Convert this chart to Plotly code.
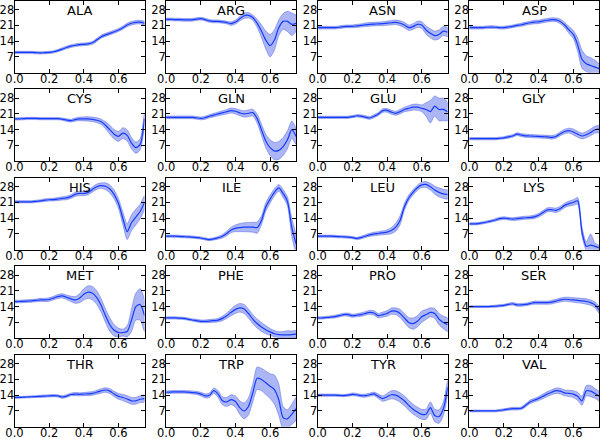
import plotly.graph_objects as go

x = [0.0, 0.025, 0.05, 0.075, 0.1, 0.125, 0.15, 0.175, 0.2, 0.225, 0.25, 0.275, 0.3, 0.325, 0.35,
     0.375, 0.4, 0.425, 0.45, 0.475, 0.5, 0.525, 0.55, 0.575, 0.6, 0.625, 0.65, 0.675, 0.7, 0.725, 0.75]

x_ticks = [0.0, 0.2, 0.4, 0.6]
x_tick_labels = ["0.0", "0.2", "0.4", "0.6"]
y_ticks = [7, 14, 21, 28]
y_tick_labels = ["7", "14", "21", "28"]

names = ["ALA", "ARG", "ASN", "ASP", "CYS", "GLN", "GLU", "GLY", "HIS", "ILE",
         "LEU", "LYS", "MET", "PHE", "PRO", "SER", "THR", "TRP", "TYR", "VAL"]

ALA = [9.0, 9.0, 9.0, 9.0, 9.0, 8.9, 8.8, 8.9, 9.0, 9.3, 9.8, 10.5, 11.2, 11.8, 12.2, 12.5, 12.6, 12.8, 13.3,
       14.6, 16.0, 16.8, 17.5, 18.2, 19.0, 20.0, 21.2, 22.0, 22.4, 22.5, 22.0]
ALA_err = [0.5, 0.5, 0.5, 0.5, 0.5, 0.5, 0.5, 0.5, 0.5, 0.5, 0.5, 0.6, 0.6, 0.6, 0.6, 0.6, 0.6, 0.6, 0.6,
           0.7, 0.7, 0.7, 0.7, 0.7, 0.7, 0.7, 0.8, 0.8, 0.8, 0.8, 0.8]

ARG = [23.7, 23.7, 23.6, 23.6, 23.5, 23.5, 23.5, 23.8, 24.0, 23.6, 23.0, 22.8, 22.8, 22.6, 22.3, 21.8, 22.5,
       24.0, 25.3, 25.5, 24.5, 22.0, 18.5, 14.5, 12.0, 14.5, 20.0, 22.8, 22.8, 21.5, 22.0]
ARG_err = [0.6, 0.6, 0.6, 0.6, 0.6, 0.6, 0.6, 0.6, 0.6, 0.6, 0.6, 0.6, 0.6, 0.6, 0.6, 0.8, 0.9, 1.0, 1.2,
           1.2, 1.2, 1.8, 2.8, 4.0, 5.0, 4.5, 3.5, 3.5, 4.5, 5.0, 3.5]

ASN = [20.0, 20.0, 20.0, 20.0, 20.0, 20.2, 20.5, 20.6, 20.6, 20.8, 21.0, 21.3, 21.5, 21.6, 21.7, 21.8, 22.0,
       22.2, 22.4, 22.0, 21.2, 20.0, 20.5, 21.5, 21.2, 19.0, 17.5, 16.5, 17.0, 18.5, 18.0]
ASN_err = [0.6, 0.6, 0.6, 0.6, 0.6, 0.6, 0.6, 0.6, 0.6, 0.7, 0.7, 0.8, 0.8, 0.8, 0.8, 0.9, 0.9, 1.0, 1.0,
           1.1, 1.2, 1.2, 1.3, 1.4, 1.5, 1.8, 2.0, 2.0, 2.0, 2.0, 2.0]

ASP = [20.0, 20.0, 20.0, 20.0, 20.2, 20.3, 20.2, 20.0, 20.0, 20.3, 20.6, 21.0, 21.3, 21.8, 22.2, 22.5, 22.6,
       23.0, 23.3, 23.6, 23.5, 22.8, 21.2, 19.0, 17.0, 12.5, 6.0, 4.0, 3.2, 2.5, 1.8]
ASP_err = [0.6, 0.6, 0.6, 0.6, 0.6, 0.6, 0.6, 0.6, 0.6, 0.6, 0.6, 0.6, 0.7, 0.7, 0.7, 0.8, 0.8, 0.8, 0.8,
           0.8, 0.8, 1.0, 1.2, 1.5, 1.8, 3.0, 4.0, 3.5, 3.5, 3.0, 2.0]

CYS = [18.8, 18.8, 18.9, 19.0, 19.0, 19.0, 18.9, 18.9, 18.9, 18.9, 18.9, 18.7, 18.3, 18.0, 18.5, 18.8, 18.8,
       18.8, 18.6, 18.2, 17.5, 16.0, 14.0, 12.0, 11.0, 12.5, 11.5, 8.0, 6.0, 7.5, 19.0]
CYS_err = [0.5, 0.5, 0.5, 0.5, 0.5, 0.5, 0.5, 0.5, 0.5, 0.5, 0.5, 0.5, 0.6, 0.6, 0.7, 0.8, 0.9, 1.0, 1.0,
           1.1, 1.2, 1.6, 2.0, 2.1, 2.2, 2.4, 2.5, 2.5, 2.5, 2.5, 2.5]

GLN = [19.5, 19.5, 19.5, 19.5, 19.5, 19.5, 19.5, 19.3, 19.0, 19.3, 20.0, 20.5, 21.0, 21.5, 22.0, 22.5, 22.2,
       21.5, 21.0, 21.3, 21.6, 19.0, 14.0, 9.0, 6.0, 4.5, 4.8, 6.5, 9.5, 14.0, 11.0]
GLN_err = [0.6, 0.6, 0.6, 0.6, 0.6, 0.6, 0.6, 0.6, 0.6, 0.7, 0.7, 0.8, 0.8, 0.9, 1.0, 1.1, 1.2, 1.3, 1.4,
           1.5, 1.5, 2.0, 2.5, 3.0, 3.5, 3.8, 4.0, 4.0, 4.0, 3.8, 3.5]

GLU = [19.5, 19.5, 19.5, 19.5, 19.5, 19.5, 19.5, 19.5, 19.8, 20.2, 20.0, 19.6, 19.2, 20.0, 21.0, 22.5, 22.6,
       21.8, 21.3, 22.0, 23.0, 23.5, 24.0, 24.0, 23.5, 23.0, 22.0, 24.5, 23.0, 23.0, 22.0]
GLU_err = [0.5, 0.5, 0.5, 0.5, 0.5, 0.5, 0.5, 0.5, 0.5, 0.5, 0.6, 0.6, 0.6, 0.7, 0.7, 0.8, 0.8, 0.9, 0.9,
           1.0, 1.0, 1.2, 1.3, 1.4, 1.5, 3.0, 5.0, 4.5, 5.0, 5.0, 4.0]

GLY = [10.0, 10.0, 10.0, 10.0, 10.0, 10.0, 10.0, 10.2, 10.4, 10.8, 11.2, 12.0, 11.6, 11.3, 11.2, 11.1, 11.0,
       10.9, 10.8, 10.6, 11.0, 12.2, 13.2, 13.6, 13.0, 12.0, 11.2, 11.8, 12.8, 14.0, 14.3]
GLY_err = [0.5, 0.5, 0.5, 0.5, 0.5, 0.5, 0.5, 0.5, 0.5, 0.6, 0.6, 0.6, 0.7, 0.7, 0.7, 0.7, 0.7, 0.7, 0.7,
           0.8, 0.8, 0.9, 1.0, 1.1, 1.3, 1.3, 1.3, 1.4, 1.5, 1.5, 1.5]

HIS = [21.3, 21.3, 21.3, 21.3, 21.3, 21.5, 21.7, 22.0, 22.2, 22.3, 22.5, 22.8, 23.0, 23.6, 24.6, 25.0, 25.0,
       25.5, 26.8, 28.0, 28.5, 28.2, 27.0, 24.5, 20.5, 14.0, 8.0, 12.0, 14.5, 17.0, 21.0]
HIS_err = [0.5, 0.5, 0.5, 0.5, 0.5, 0.5, 0.5, 0.6, 0.6, 0.6, 0.7, 0.7, 0.8, 0.8, 0.9, 1.0, 1.0, 1.1, 1.1,
           1.2, 1.2, 1.5, 1.8, 2.0, 2.2, 2.8, 3.5, 3.5, 3.5, 3.2, 3.0]

ILE = [6.0, 6.0, 6.0, 5.9, 5.8, 5.7, 5.6, 5.4, 5.2, 4.8, 4.5, 4.8, 5.3, 6.0, 7.2, 8.8, 9.5, 9.8, 10.0,
       10.0, 10.0, 9.8, 13.0, 19.0, 22.5, 25.5, 27.5, 25.0, 21.5, 10.0, 2.5]
ILE_err = [0.5, 0.5, 0.5, 0.5, 0.5, 0.5, 0.5, 0.5, 0.5, 0.5, 0.5, 0.5, 0.6, 0.8, 1.0, 1.2, 1.5, 1.8, 2.0,
           2.1, 2.2, 2.5, 2.0, 1.9, 1.8, 1.6, 1.5, 1.8, 2.0, 4.0, 4.0]

LEU = [6.0, 6.0, 6.0, 6.0, 5.9, 5.8, 5.7, 5.6, 5.4, 5.0, 5.4, 6.0, 6.6, 7.0, 7.2, 7.5, 7.8, 8.5, 10.0,
       13.0, 19.0, 23.0, 25.5, 27.5, 28.8, 29.0, 28.0, 26.5, 25.5, 24.8, 24.5]
LEU_err = [0.5, 0.5, 0.5, 0.5, 0.5, 0.5, 0.5, 0.5, 0.5, 0.5, 0.6, 0.6, 0.7, 0.8, 0.8, 0.9, 1.0, 1.4, 1.8,
           2.0, 1.5, 1.3, 1.2, 1.2, 1.2, 1.3, 1.5, 1.8, 2.0, 2.0, 2.0]

LYS = [11.5, 11.5, 11.6, 11.9, 12.3, 12.7, 13.2, 13.8, 14.0, 13.8, 13.6, 13.8, 14.0, 14.2, 14.3, 14.6, 15.3,
       16.5, 17.7, 17.8, 17.5, 18.3, 19.7, 20.5, 21.0, 21.7, 8.0, 1.5, 2.0, 1.5, 0.8]
LYS_err = [0.5, 0.5, 0.5, 0.5, 0.5, 0.5, 0.6, 0.6, 0.6, 0.6, 0.6, 0.7, 0.7, 0.7, 0.7, 0.8, 0.8, 0.9, 0.9,
           0.9, 1.0, 1.0, 1.0, 1.1, 1.2, 1.5, 2.0, 2.0, 5.0, 1.5, 1.0]

MET = [16.3, 16.3, 16.4, 16.5, 16.6, 16.8, 17.0, 17.0, 17.2, 17.8, 18.5, 18.8, 18.2, 17.5, 17.0, 17.8, 19.5,
       20.5, 20.0, 18.0, 14.5, 10.0, 6.0, 3.5, 2.5, 2.5, 3.0, 8.0, 14.0, 15.0, 10.0]
MET_err = [0.6, 0.6, 0.6, 0.6, 0.6, 0.6, 0.7, 0.7, 0.8, 0.8, 0.9, 0.9, 1.0, 1.2, 1.5, 2.0, 2.5, 2.8, 3.0,
           3.0, 3.0, 3.0, 3.0, 2.5, 2.0, 1.5, 2.5, 5.0, 6.0, 7.0, 7.0]

PHE = [9.0, 9.0, 9.0, 8.9, 8.8, 8.5, 8.1, 7.8, 7.5, 7.5, 7.6, 7.8, 8.0, 8.8, 10.0, 11.5, 12.8, 13.5, 13.0,
       11.0, 8.5, 6.5, 5.0, 3.8, 2.8, 2.0, 1.6, 1.5, 1.5, 1.6, 1.8]
PHE_err = [0.5, 0.5, 0.5, 0.5, 0.5, 0.5, 0.5, 0.6, 0.6, 0.6, 0.7, 0.7, 0.8, 1.0, 1.2, 1.5, 1.8, 1.9, 2.0,
           2.0, 2.0, 2.0, 2.0, 1.8, 1.5, 1.4, 1.3, 1.5, 1.8, 1.6, 1.5]

PRO = [9.0, 9.0, 9.2, 9.4, 9.6, 10.0, 10.5, 10.5, 10.0, 10.2, 10.5, 11.0, 11.5, 11.2, 10.0, 10.5, 11.0, 12.0,
       12.0, 11.0, 9.0, 7.0, 6.5, 7.5, 9.5, 10.5, 11.5, 11.0, 8.5, 7.0, 6.0]
PRO_err = [0.5, 0.5, 0.5, 0.5, 0.6, 0.6, 0.6, 0.7, 0.7, 0.7, 0.8, 0.8, 0.9, 1.0, 1.0, 1.1, 1.2, 1.4, 1.5,
           1.8, 2.0, 2.2, 2.5, 2.5, 2.5, 2.2, 2.0, 2.2, 2.5, 2.8, 3.0]

SER = [14.0, 14.0, 14.0, 14.0, 14.0, 14.1, 14.2, 14.4, 14.6, 15.0, 15.3, 14.8, 14.8, 15.0, 15.4, 15.8, 15.8,
       15.8, 15.8, 16.0, 16.5, 17.0, 17.3, 17.2, 17.0, 16.8, 16.6, 16.3, 15.8, 14.8, 12.5]
SER_err = [0.4, 0.4, 0.4, 0.4, 0.4, 0.4, 0.5, 0.5, 0.5, 0.5, 0.6, 0.6, 0.6, 0.6, 0.6, 0.7, 0.7, 0.7, 0.7,
           0.8, 0.8, 0.9, 0.9, 1.0, 1.0, 1.1, 1.1, 1.2, 1.2, 1.3, 1.5]

THR = [13.0, 13.0, 13.1, 13.2, 13.3, 13.4, 13.5, 13.6, 13.7, 13.8, 13.7, 13.2, 13.6, 14.3, 14.5, 14.4, 14.5,
       14.6, 14.8, 15.3, 15.9, 16.3, 15.8, 14.5, 13.5, 13.0, 12.3, 11.5, 11.5, 12.2, 12.5]
THR_err = [0.4, 0.4, 0.4, 0.4, 0.4, 0.4, 0.5, 0.5, 0.5, 0.5, 0.5, 0.6, 0.6, 0.6, 0.7, 0.7, 0.7, 0.8, 0.8,
           0.9, 1.0, 1.0, 1.1, 1.2, 1.3, 1.4, 1.5, 1.5, 1.5, 1.5, 1.5]

TRP = [15.3, 15.4, 15.5, 15.5, 15.5, 15.4, 15.2, 15.0, 14.5, 13.7, 14.0, 16.0, 14.5, 11.5, 11.0, 12.0, 11.2,
       8.5, 7.0, 9.0, 15.0, 21.5, 21.0, 19.5, 18.0, 16.5, 12.0, 4.0, 3.5, 5.5, 8.0]
TRP_err = [0.6, 0.6, 0.6, 0.6, 0.6, 0.6, 0.7, 0.7, 0.8, 0.9, 1.0, 1.2, 1.5, 1.8, 2.0, 2.2, 2.5, 3.0, 3.5,
           3.8, 4.0, 5.0, 5.0, 5.2, 5.5, 6.5, 7.0, 5.0, 4.0, 4.5, 5.0]

TYR = [14.0, 14.0, 14.0, 14.0, 14.0, 13.9, 13.8, 14.0, 14.4, 14.2, 13.8, 13.8, 14.2, 14.6, 13.5, 12.5, 13.3,
       14.2, 14.0, 13.0, 11.5, 9.5, 7.8, 6.5, 5.5, 5.5, 8.5, 5.0, 4.5, 8.0, 17.5]
TYR_err = [0.5, 0.5, 0.5, 0.5, 0.5, 0.5, 0.5, 0.5, 0.6, 0.6, 0.6, 0.7, 0.7, 0.8, 1.0, 1.2, 1.5, 1.8, 2.0,
           2.1, 2.2, 2.2, 2.2, 2.2, 2.2, 2.3, 2.5, 2.8, 3.0, 3.0, 3.0]

VAL = [7.0, 7.0, 7.0, 7.0, 7.0, 7.0, 7.0, 7.2, 7.5, 7.8, 8.0, 8.0, 8.2, 9.5, 11.0, 11.8, 12.5, 13.5, 14.5,
       15.3, 16.0, 15.8, 15.0, 14.8, 14.5, 13.5, 11.5, 16.0, 15.8, 14.8, 13.5]
VAL_err = [0.4, 0.4, 0.4, 0.4, 0.4, 0.4, 0.4, 0.5, 0.5, 0.5, 0.6, 0.6, 0.6, 0.7, 0.8, 0.8, 0.9, 1.0, 1.1,
           1.1, 1.2, 1.3, 1.3, 1.4, 1.5, 1.8, 2.0, 2.3, 2.5, 2.2, 2.0]

means = [ALA, ARG, ASN, ASP, CYS, GLN, GLU, GLY, HIS, ILE, LEU, LYS, MET, PHE, PRO, SER, THR, TRP, TYR, VAL]
errs = [ALA_err, ARG_err, ASN_err, ASP_err, CYS_err, GLN_err, GLU_err, GLY_err, HIS_err, ILE_err,
        LEU_err, LYS_err, MET_err, PHE_err, PRO_err, SER_err, THR_err, TRP_err, TYR_err, VAL_err]

W, H = 600, 439
LINE = "rgb(20,60,255)"
BAND = "rgba(60,80,230,0.42)"
BAND_EDGE = "rgba(50,70,220,0.55)"
FONT = "DejaVu Sans"

fig = go.Figure()
layout = {}
annotations = []
for i, (name, m, e) in enumerate(zip(names, means, errs)):
    r, c = divmod(i, 4)
    sfx = "" if i == 0 else str(i + 1)
    upper = [a + b for a, b in zip(m, e)]
    lower = [a - b for a, b in zip(m, e)]
    fig.add_trace(go.Scatter(
        x=x + x[::-1], y=upper + lower[::-1], fill="toself", fillcolor=BAND,
        line=dict(color=BAND_EDGE, width=0.7, shape="spline", smoothing=0.7),
        mode="lines", xaxis="x" + sfx, yaxis="y" + sfx, hoverinfo="skip", showlegend=False))
    fig.add_trace(go.Scatter(
        x=x, y=m, mode="lines", line=dict(color=LINE, width=1.2, shape="spline", smoothing=0.7),
        xaxis="x" + sfx, yaxis="y" + sfx, showlegend=False))

    left = 14.5 + c * 151.6
    right = left + 130
    top = 0.7 + r * 88.5
    bottom = top + 72
    common = dict(showgrid=False, zeroline=False, showline=True, linecolor="black", linewidth=1,
                  mirror="ticks", ticks="inside", ticklen=4, tickwidth=1, tickcolor="black",
                  tickfont=dict(family=FONT, size=11.5, color="black"), automargin=False, fixedrange=True)
    layout["xaxis" + sfx] = dict(domain=[left / W, right / W], range=[0, 0.75], anchor="y" + sfx,
                                 tickvals=x_ticks, ticktext=x_tick_labels, ticklabelstandoff=-5, **common)
    layout["yaxis" + sfx] = dict(domain=[1 - bottom / H, 1 - top / H], range=[0, 32], anchor="x" + sfx,
                                 tickvals=y_ticks, ticktext=y_tick_labels, ticklabelstandoff=-3, **common)
    annotations.append(dict(text=name, xref="x" + sfx + " domain", yref="y" + sfx + " domain",
                            x=0.5, y=1, xanchor="center", yanchor="top", yshift=0, showarrow=False,
                            font=dict(family=FONT, size=13, color="black")))

fig.update_layout(width=W, height=H, margin=dict(l=0, r=0, t=0, b=0), paper_bgcolor="white",
                  plot_bgcolor="white", annotations=annotations, **layout)
fig.write_html("out.html", config={"displayModeBar": False},
               post_script="document.body.style.margin='0';document.body.style.overflow='hidden';")
